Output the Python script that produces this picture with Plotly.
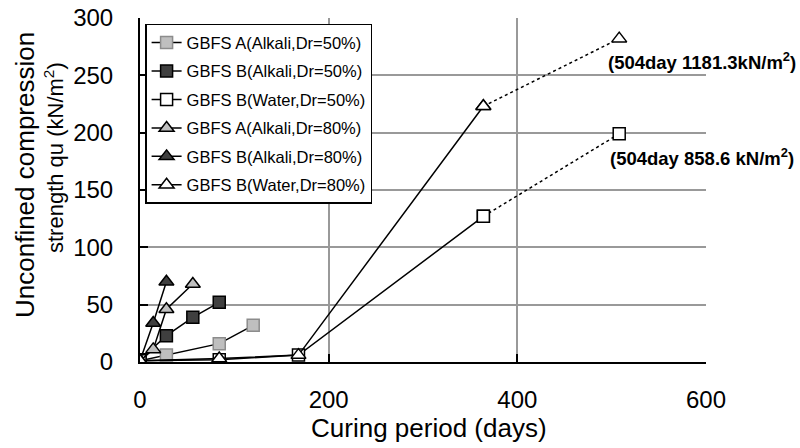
import plotly.graph_objects as go

# Data (days, qu kN/m2)
a_alk50_days = [0, 28, 84, 120]
a_alk50_vals = [1, 6, 16, 32]
b_alk50_days = [0, 28, 56, 84]
b_alk50_vals = [2, 23, 39, 52]
b_wat50_days = [0, 84, 168, 364]
b_wat50_vals = [1, 2, 6, 127]
b_wat50_ext_days = [364, 508]
b_wat50_ext_vals = [127, 199]
a_alk80_days = [0, 14, 28, 56]
a_alk80_vals = [1, 11, 46, 68]
b_alk80_days = [0, 14, 28]
b_alk80_vals = [1, 34, 70]
b_wat80_days = [0, 84, 168, 364]
b_wat80_vals = [1, 3, 6, 223]
b_wat80_ext_days = [364, 508]
b_wat80_ext_vals = [223, 282]

names = ["GBFS A(Alkali,Dr=50%)", "GBFS B(Alkali,Dr=50%)", "GBFS B(Water,Dr=50%)",
         "GBFS A(Alkali,Dr=80%)", "GBFS B(Alkali,Dr=80%)", "GBFS B(Water,Dr=80%)"]
x_ticks = [0, 200, 400, 600]
y_ticks = [0, 50, 100, 150, 200, 250, 300]

LIGHT = "#bfbfbf"
DARK = "#3f3f3f"
WHITE = "#ffffff"
FONT = "Arial, Liberation Sans"

series = [
    (a_alk50_days, a_alk50_vals, "square", LIGHT, 12, "#8c8c8c"),
    (b_alk50_days, b_alk50_vals, "square", DARK, 12, "#000000"),
    (b_wat50_days, b_wat50_vals, "square", WHITE, 12, "#000000"),
    (a_alk80_days, a_alk80_vals, "triangle-up", LIGHT, 13, "#000000"),
    (b_alk80_days, b_alk80_vals, "triangle-up", DARK, 13, "#000000"),
    (b_wat80_days, b_wat80_vals, "triangle-up", WHITE, 13, "#000000"),
]

fig = go.Figure()

# dotted extensions
fig.add_trace(go.Scatter(x=b_wat50_ext_days, y=b_wat50_ext_vals, mode="lines+markers",
                         line=dict(color="black", width=1.5, dash="dot"),
                         marker=dict(symbol="square", size=12, color=WHITE, line=dict(color="black", width=1.5)),
                         showlegend=False))
fig.add_trace(go.Scatter(x=b_wat80_ext_days, y=b_wat80_ext_vals, mode="lines+markers",
                         line=dict(color="black", width=1.5, dash="dot"),
                         marker=dict(symbol="triangle-up", size=13, color=WHITE, line=dict(color="black", width=1.5)),
                         showlegend=False))

for i, (xs, ys, sym, col, sz, lc) in enumerate(series):
    fig.add_trace(go.Scatter(x=xs, y=ys, mode="lines+markers", name=names[i],
                             legendgroup=f"g{i}",
                             line=dict(color="black", width=1.5),
                             marker=dict(symbol=sym, size=sz, color=col, line=dict(color=lc, width=1.5))))

fig.add_annotation(x=b_wat80_ext_days[-1], y=b_wat80_ext_vals[-1], xref="x", yref="y",
                   text="<b>(504day 1181.3kN/m<sup>2</sup>)</b>",
                   showarrow=False, xanchor="left", yanchor="top", xshift=-13, yshift=-8,
                   font=dict(family=FONT, size=18.5, color="black"))
fig.add_annotation(x=b_wat50_ext_days[-1], y=b_wat50_ext_vals[-1], xref="x", yref="y",
                   text="<b>(504day 858.6 kN/m<sup>2</sup>)</b>",
                   showarrow=False, xanchor="left", yanchor="top", xshift=-11, yshift=-9,
                   font=dict(family=FONT, size=18.5, color="black"))

W, H = 800, 448
ML, MR, MT, MB = 140, 94, 18, 86
pw, ph = W - ML - MR, H - MT - MB

def px_x(v):
    return (v - ML) / pw

def px_y(v):
    return (H - MB - v) / ph

# axis titles
fig.add_annotation(x=px_x(429), y=px_y(428), xref="paper", yref="paper", text="Curing period (days)",
                   showarrow=False, xanchor="center", yanchor="middle",
                   font=dict(family=FONT, size=26, color="black"))
fig.add_annotation(x=px_x(25), y=px_y(175), xref="paper", yref="paper",
                   text="Unconfined compression",
                   showarrow=False, xanchor="center", yanchor="middle", textangle=-90,
                   font=dict(family=FONT, size=26, color="black"))
fig.add_annotation(x=px_x(54), y=px_y(158), xref="paper", yref="paper",
                   text="strength qu (kN/m<sup>2</sup>)",
                   showarrow=False, xanchor="center", yanchor="middle", textangle=-90,
                   font=dict(family=FONT, size=22, color="black"))

fig.update_layout(
    width=W, height=H,
    margin=dict(l=ML, r=MR, t=MT, b=MB, pad=0, autoexpand=False),
    paper_bgcolor="white", plot_bgcolor="white",
    font=dict(family=FONT, color="black"),
    legend=dict(x=0.009, y=0.983, xanchor="left", yanchor="top",
                bordercolor="black", borderwidth=1.5, bgcolor="white",
                font=dict(size=16.5), tracegroupgap=4),
    xaxis=dict(range=[0, 600], tickvals=x_ticks, showgrid=True,
               gridcolor="#999999", gridwidth=2, showline=True, linecolor="black", linewidth=2,
               ticks="inside", ticklen=8, tickwidth=2, tickcolor="black",
               tickfont=dict(size=24), ticklabelstandoff=15, zeroline=False, automargin=False),
    yaxis=dict(range=[0, 300], tickvals=y_ticks, showgrid=True,
               gridcolor="#999999", gridwidth=2, showline=True, linecolor="black", linewidth=2,
               ticks="inside", ticklen=8, tickwidth=2, tickcolor="black",
               tickfont=dict(size=24), ticklabelstandoff=20, zeroline=False, automargin=False),
)

fig.write_html("out.html")
